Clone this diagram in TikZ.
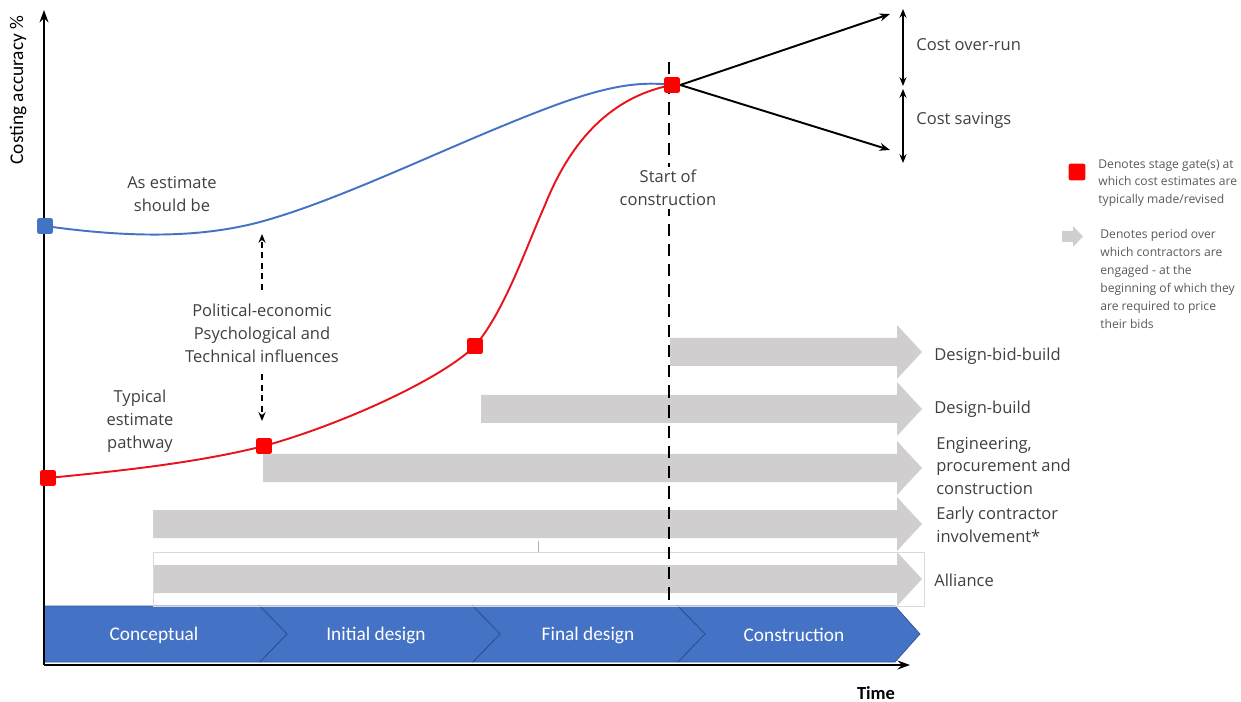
\documentclass[tikz,border=0pt]{standalone}
\usepackage{fontspec}
\setmainfont{Open Sans}
\newfontfamily\calfont{Carlito}
\usetikzlibrary{arrows.meta}
\definecolor{txt}{HTML}{404040}
\definecolor{legtxt}{HTML}{595959}
\definecolor{chev}{HTML}{4472C4}
\definecolor{chevedge}{HTML}{2F5597}
\definecolor{band}{HTML}{D0CECE}
\definecolor{estblue}{HTML}{4472C4}
\definecolor{gatered}{HTML}{FF0000}
\definecolor{pathred}{HTML}{E8141B}
\tikzset{
  axis/.style={line width=1.5pt,-{Stealth[length=7pt,width=5pt]}},
  gate/.style={fill=gatered,rounded corners=1.2pt,minimum size=9pt,inner sep=0pt},
  bluegate/.style={fill=estblue,rounded corners=1.2pt,minimum size=9pt,inner sep=0pt},
  lbl/.style={text=txt,font=\fontsize{9.4}{13}\selectfont,align=center,inner sep=0pt},
  rlbl/.style={text=txt,font=\fontsize{9.4}{13}\selectfont,align=left,anchor=west,inner sep=0pt},
  leg/.style={text=legtxt,font=\fontsize{6.9}{10.2}\selectfont,align=left,anchor=north west,inner sep=0pt},
  chevlbl/.style={text=white,font=\calfont\fontsize{11}{13}\selectfont,inner sep=0pt},
  chevshape/.style={fill=chev,draw=chevedge,line width=0.4pt},
  bandfill/.style={fill=band},
  fork/.style={line width=1.1pt,-{Stealth[length=6pt,width=4.5pt]}},
  span/.style={line width=1.1pt,{Stealth[length=5pt,width=4pt]}-{Stealth[length=5pt,width=4pt]}},
  influence/.style={line width=1pt,dash pattern=on 3.5pt off 2.5pt,-{Stealth[length=5pt,width=4pt]}},
}
% grey engagement band: start x, centre y
\newcommand{\engageband}[2]{%
  \fill[bandfill] (#1,#2-14) -- (897,#2-14) -- (897,#2-27) -- (922,#2)
    -- (897,#2+27) -- (897,#2+14) -- (#1,#2+14) -- cycle;}
\begin{document}
\begin{tikzpicture}[x=0.02cm,y=-0.02cm]
\useasboundingbox (0,0) rectangle (1241,702);

% project stages
\fill[chevshape] (44,606) -- (260,606) -- (287,634) -- (260,662) -- (44,662) -- cycle;
\fill[chevshape] (260,606) -- (473,606) -- (500,634) -- (473,662) -- (260,662) -- (287,634) -- cycle;
\fill[chevshape] (473,606) -- (678,606) -- (705,634) -- (678,662) -- (473,662) -- (500,634) -- cycle;
\fill[chevshape] (678,606) -- (895,606) -- (920,634) -- (895,662) -- (678,662) -- (705,634) -- cycle;
\draw[chevedge,line width=0.4pt] (260,606) -- (287,634) -- (260,662);
\draw[chevedge,line width=0.4pt] (473,606) -- (500,634) -- (473,662);
\draw[chevedge,line width=0.4pt] (678,606) -- (705,634) -- (678,662);
\node[chevlbl] (s1) at (154,635) {Conceptual};
\node[chevlbl] (s2) at (376,635) {Initial design};
\node[chevlbl] (s3) at (588,635) {Final design};
\node[chevlbl] (s4) at (794,635) {Construction};

% contractor engagement bands
\engageband{670}{352}
\engageband{481}{409}
\engageband{263}{468}
\engageband{153}{524}
\engageband{153}{579}
\draw[black!15,line width=0.3pt] (153,552) rectangle (924,606);
\draw[black!30,line width=0.4pt] (538,541) -- (538,552);

\node[rlbl] (dbb) at (934,356) {Design-bid-build};
\node[rlbl] (db) at (934,409) {Design-build};
\node[rlbl] (epc) at (936,466) {Engineering,\\procurement and\\construction};
\node[rlbl] (eci) at (936,525) {Early contractor\\involvement*};
\node[rlbl] (all) at (934,580) {Alliance};

% start of construction
\coordinate (sctop) at (669,62);
\coordinate (scbot) at (669,604);
\draw[line width=1.5pt,dash pattern=on 7pt off 4.5pt] (sctop) -- (scbot);
\node[lbl,fill=white,inner sep=2pt] (sc) at (668,188) {Start of\\construction};

% axes
\coordinate (o) at (44,665);
\coordinate (ytop) at (44,10);
\coordinate (xend) at (910,665);
\draw[axis] (o) -- (ytop);
\draw[axis] (o) -- (xend);
\node[font=\calfont\fontsize{11}{12}\selectfont,rotate=90] (ylab) at (18,90) {Costing accuracy \%};
\node[font=\calfont\bfseries\fontsize{10.5}{12}\selectfont] (xlab) at (876,693) {Time};

% estimate curves
\coordinate (b0) at (45,226);
\coordinate (r0) at (48,478);
\coordinate (r1) at (264,446);
\coordinate (r2) at (475,346);
\coordinate (r3) at (672,85);
\draw[estblue,line width=1.1pt] (b0) .. controls (130,238) and (200,238) .. (260,222)
  .. controls (330,203) and (420,160) .. (500,127)
  .. controls (580,94) and (625,79) .. (r3);
\draw[pathred,line width=1.1pt] (r0) .. controls (130,470) and (200,462) .. (r1)
  .. controls (340,425) and (440,380) .. (r2)
  .. controls (505,310) and (525,250) .. (545,205)
  .. controls (575,130) and (620,95) .. (r3);
\node[bluegate] (bg) at (b0) {};
\node[gate] (g0) at (r0) {};
\node[gate] (g1) at (r1) {};
\node[gate] (g2) at (r2) {};
\node[gate] (g3) at (r3) {};

% outcome fan
\coordinate (over) at (890,14);
\coordinate (save) at (890,150);
\draw[fork] (g3.east) -- (over);
\draw[fork] (g3.east) -- (save);
\coordinate (ot) at (903,9);
\coordinate (om) at (903,86);
\coordinate (sm) at (903,89);
\coordinate (sb) at (903,163);
\draw[span] (ot) -- (om);
\draw[span] (sm) -- (sb);
\node[rlbl] (co) at (916,45) {Cost over-run};
\node[rlbl] (cs) at (916,120) {Cost savings};

% curve labels
\node[lbl] (asb) at (172,194) {As estimate\\should be};
\node[lbl] (typ) at (140,421) {Typical\\estimate\\pathway};
\node[lbl] (inf) at (262,333) {Political-economic\\Psychological and\\Technical influences};
\draw[influence] (262,290) -- (262,234);
\draw[influence] (262,374) -- (262,421);

% legend
\node[gate,minimum size=9.5pt] (lg) at (1077,172) {};
\node[leg] (lgt) at (1098,159) {Denotes stage gate(s) at\\which cost estimates are\\typically made/revised};
\fill[bandfill] (1062,231) -- (1073,231) -- (1073,226) -- (1083,236.5) -- (1073,247) -- (1073,242) -- (1062,242) -- cycle;
\node[leg] (lbt) at (1100,229) {Denotes period over\\which contractors are\\engaged - at the\\beginning of which they\\are required to price\\their bids};
\end{tikzpicture}
\end{document}
